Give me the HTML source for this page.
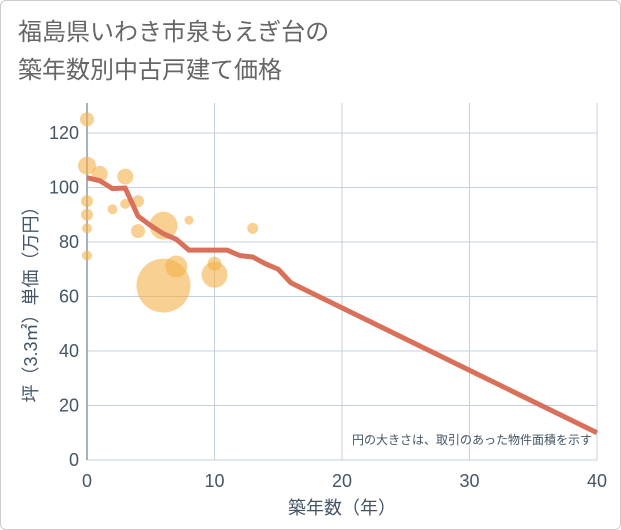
<!DOCTYPE html>
<html><head><meta charset="utf-8"><style>
body{margin:0;background:#fff;font-family:"Liberation Sans","Noto Sans CJK JP",sans-serif}
#wrap{position:relative;width:619px;height:528px;border:1px solid #ccc;border-radius:6px;background:#fff}
</style></head><body>
<div id="wrap">
<svg id="c" width="621" height="530" style="position:absolute;left:-1px;top:-1px">
<text x="18" y="40" font-size="24" fill="#666" font-family="Liberation Sans,Noto Sans CJK JP,sans-serif">福島県いわき市泉もえぎ台の</text>
<text x="18" y="78" font-size="24" fill="#666" font-family="Liberation Sans,Noto Sans CJK JP,sans-serif">築年数別中古戸建て価格</text>
</svg>
</div>
<script>
const xTicks=[0,10,20,30,40];
const yTicks=[0,20,40,60,80,100,120];
const lineX=[0,1,2,3,4,5,6,7,8,9,10,11,12,13,14,15,16,40];
const lineY=[103.6,102.5,99.6,99.8,89.5,86,83,81,77,77,77,77,75,74.5,72,70,65,10];
const bubX=[0,0,1,3,0,2,3,4,0,0,6,4,8,13,0,7,10,10,6];
const bubY=[125,108,105,104,95,92,94,95,90,85,86,84,88,85,75,71,72,68,64];
const bubR=[7,9,8,8,6,5,5,6,6,5,14,7,4.5,5.5,5,11,7,13,27];
const svg=document.getElementById('c');const NS='http://www.w3.org/2000/svg';
const X0=87,X1=597,Y0=460,Y1=133;
const sx=v=>X0+(X1-X0)*v/40, sy=v=>Y0-(Y0-Y1)*v/120;
function mk(t,a){const e=document.createElementNS(NS,t);for(const k in a)e.setAttribute(k,a[k]);svg.appendChild(e);return e;}
const bg=mk('rect',{x:X0,y:103,width:X1-X0,height:Y0-103,fill:'#fff'});


yTicks.forEach(v=>{const g=mk('line',{x1:X0,x2:X1,y1:sy(v),y2:sy(v),stroke:'#c5d0dc','stroke-width':1});


const t=mk('text',{x:X0-8,y:sy(v)+6,'text-anchor':'end','font-size':18,fill:'#445566'});t.textContent=v;

});
xTicks.forEach(v=>{const g=mk('line',{x1:sx(v),x2:sx(v),y1:103,y2:Y0,stroke:'#c5d0dc','stroke-width':1});


const t=mk('text',{x:sx(v),y:487,'text-anchor':'middle','font-size':18,fill:'#445566'});t.textContent=v;

});
const ax=mk('line',{x1:X0,x2:X0,y1:103,y2:Y0,stroke:'#8899aa','stroke-width':1.5});


bubX.forEach((v,i)=>{const c=mk('circle',{cx:sx(v),cy:sy(bubY[i]),r:bubR[i],fill:'#f2b04a','fill-opacity':0.6});

});
const p=mk('polyline',{points:lineX.map((v,i)=>sx(v)+','+sy(lineY[i])).join(' '),fill:'none',stroke:'#d9705a','stroke-width':5,'stroke-linejoin':'round'});


const n=mk('text',{x:592,y:444,'text-anchor':'end','font-size':12,fill:'#445566'});n.textContent='円の大きさは、取引のあった物件面積を示す';


const xt=mk('text',{x:342,y:514,'text-anchor':'middle','font-size':18,fill:'#445566'});xt.textContent='築年数（年）';


const yt=mk('text',{x:0,y:0,'text-anchor':'middle','font-size':18,fill:'#445566',transform:'translate(37,300) rotate(-90)'});yt.textContent='坪（3.3㎡）単価（万円）';


</script>
</body></html>
